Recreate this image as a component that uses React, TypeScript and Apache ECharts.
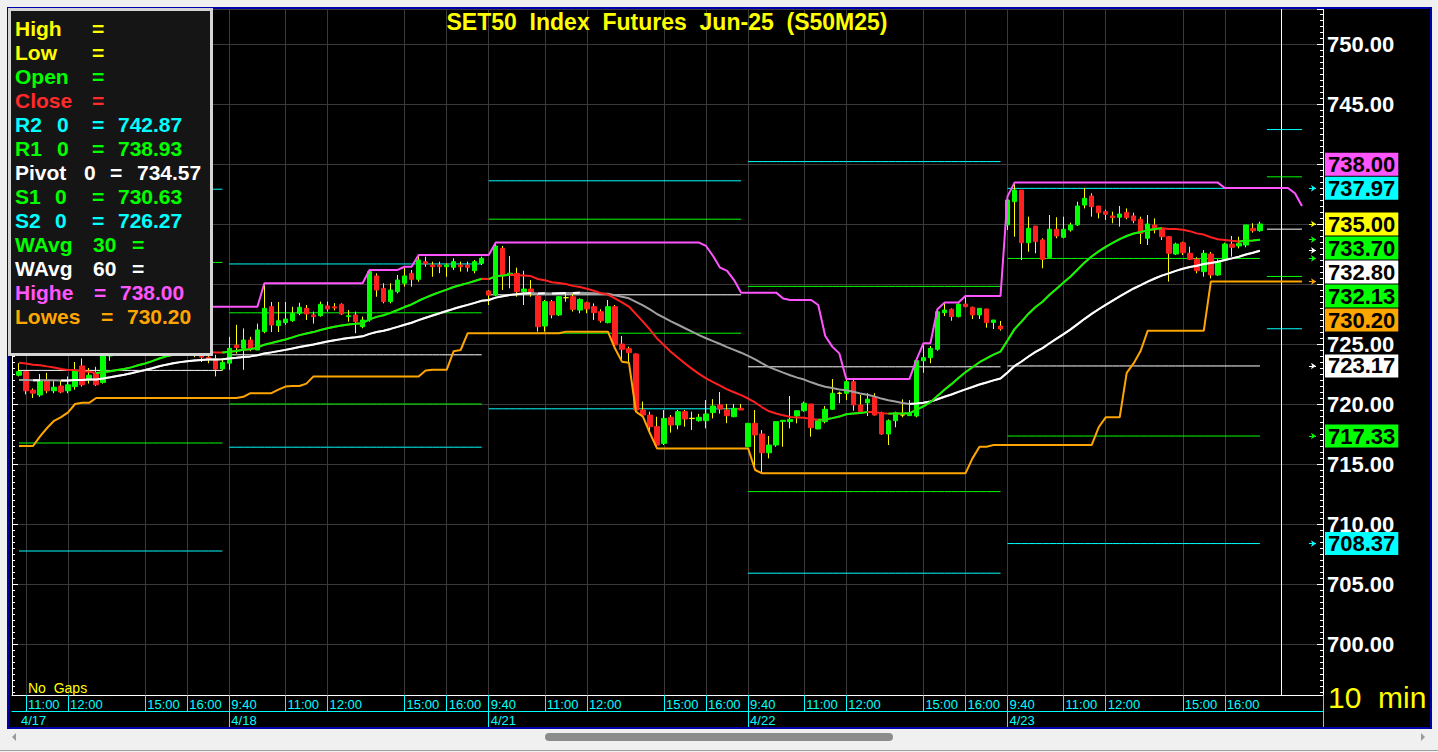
import React, { useEffect, useRef } from "react";
import * as echarts from "echarts";

const FONT = "'Liberation Sans', Arial, Helvetica, sans-serif";

// ---------- time axis ----------
const dayLabels = ["4/17", "4/18", "4/21", "4/22", "4/23"];
const dayFirstBar = [0, 30, 67, 104, 141];
const sessionTimes = [
  "9:40", "9:50", "10:00", "10:10", "10:20", "10:30", "10:40", "10:50",
  "11:00", "11:10", "11:20", "11:30", "11:40", "11:50",
  "12:00", "12:10", "12:20", "12:30", "13:50",
  "14:00", "14:10", "14:20", "14:30", "14:40", "14:50",
  "15:00", "15:10", "15:20", "15:30", "15:40", "15:50",
  "16:00", "16:10", "16:20", "16:30", "16:40", "16:50",
];
const firstDaySessionStart = 7; // 4/17 shown from 10:50
const markedTimes = ["9:40", "11:00", "12:00", "15:00", "16:00"];

// ---------- 10 min OHLC (4/17 10:50 -> 4/23 16:50) ----------
const opens = [
  // 4/17
  722.4, 722.7, 721.15, 720.75, 722.0, 721.1, 721.5, 721.1, 721.45, 723.17, 722.0, 722.6, 721.8, 724.0, 724.5,
  724.9, 724.6, 725.4, 726.0, 725.7, 726.5, 726.8, 726.2, 725.7, 725.1, 724.8, 724.2, 723.9, 723.75, 722.92,
  // 4/18
  723.4, 724.9, 724.64, 725.33, 724.5, 726.03, 728.11, 726.53, 726.78, 726.94, 727.56, 727.97, 727.42, 727.36, 728.17,
  728.1, 728.31, 727.28, 727.42, 726.44, 727.0, 730.67, 729.64, 728.53, 729.36, 730.06, 730.89, 730.39, 731.86, 731.58,
  731.58, 731.44, 731.39, 731.58, 731.58, 731.11, 731.72,
  // 4/21
  729.42, 729.08, 732.97, 730.75, 730.89, 729.36, 729.58, 729.0, 726.5, 728.53, 727.42, 728.86, 728.94, 727.83, 728.44,
  728.11, 727.69, 726.78, 728.11, 725.0, 724.61, 724.17, 719.5, 719.08, 718.11, 716.72, 718.89, 718.25, 719.36, 718.78,
  718.61, 718.61, 719.28, 719.92, 719.5, 718.94, 719.64,
  // 4/22
  716.44, 718.39, 717.5, 715.94, 716.58, 718.55, 718.53, 719.0, 719.44, 720.0, 717.92, 718.53, 719.56, 720.9, 720.89,
  721.86, 719.92, 720.1, 720.55, 719.28, 717.5, 718.61, 719.1, 719.03, 719.0, 723.6, 723.86, 724.56, 727.61, 727.89,
  727.28, 728.33, 728.06, 727.42, 727.92, 726.8, 726.5,
  // 4/23
  734.92, 736.86, 737.83, 733.44, 734.83, 733.67, 732.22, 734.56, 733.89, 734.5, 734.92, 736.58, 737.33, 736.5, 736.03,
  735.67, 735.56, 735.97, 735.67, 735.39, 733.81, 734.92, 734.64, 733.94, 732.5, 733.44, 732.56, 732.06, 731.03, 732.5,
  730.75, 732.06, 733.33, 733.17, 733.25, 734.64, 734.44,
];
const highs = [
  723.4, 722.8, 721.3, 722.5, 722.6, 722.0, 722.0, 722.3, 723.5, 723.8, 723.0, 723.1, 724.5, 724.9, 725.3,
  725.4, 725.8, 726.4, 726.6, 726.9, 728.1, 727.0, 726.5, 725.9, 725.4, 725.0, 724.5, 724.3, 724.1, 723.8,
  725.6, 726.6, 726.3, 725.6, 726.7, 730.06, 728.5, 728.5, 728.5, 728.1, 728.44, 728.25, 727.7, 728.53, 728.53,
  728.4, 728.39, 727.83, 727.7, 727.28, 731.17, 730.89, 730.06, 730.06, 730.75, 731.44, 731.17, 732.42, 732.28, 731.86,
  731.86, 731.72, 732.14, 731.86, 731.86, 732.0, 732.28,
  729.5, 733.45, 733.17, 732.33, 731.36, 731.1, 730.33, 729.08, 728.67, 728.67, 729.0, 729.22, 729.28, 728.8, 728.53,
  728.39, 727.89, 728.67, 728.25, 725.67, 724.78, 724.22, 720.2, 719.36, 718.94, 719.5, 719.08, 719.5, 719.5, 719.36,
  719.17, 720.33, 720.4, 721.0, 720.0, 720.0, 720.0,
  718.4, 719.5, 717.83, 717.33, 718.53, 718.67, 720.67, 719.44, 720.2, 720.0, 718.72, 719.83, 722.08, 721.03, 722.0,
  722.05, 720.75, 720.9, 720.9, 719.36, 718.72, 719.36, 720.39, 720.33, 723.67, 725.06, 724.83, 727.89, 728.45, 727.97,
  728.39, 729.0, 728.11, 727.97, 727.92, 727.0, 726.92,
  737.3, 738.45, 737.83, 735.61, 734.83, 733.81, 735.75, 735.56, 735.61, 735.11, 736.86, 738.0, 737.56, 736.5, 736.2,
  736.03, 736.5, 736.3, 735.94, 735.61, 735.75, 735.47, 734.72, 734.0, 733.44, 733.53, 733.11, 732.22, 732.83, 732.67,
  732.06, 733.44, 734.0, 733.94, 734.92, 735.06, 735.19,
];
const lows = [
  722.3, 720.8, 720.5, 720.6, 720.9, 720.9, 720.9, 720.9, 721.2, 721.45, 721.7, 721.5, 721.7, 723.6, 724.1,
  724.3, 724.4, 725.1, 725.4, 725.5, 726.1, 725.9, 725.4, 724.8, 724.5, 723.9, 723.5, 723.4, 722.3, 722.8,
  722.85, 724.2, 722.85, 724.4, 724.5, 725.9, 726.0, 726.0, 726.6, 726.85, 727.4, 727.0, 726.7, 727.28, 727.7,
  727.8, 727.42, 726.86, 725.9, 726.31, 726.86, 728.94, 728.39, 728.39, 729.22, 729.78, 729.78, 730.19, 731.44, 730.6,
  730.9, 730.6, 731.17, 731.03, 731.03, 730.89, 731.58,
  728.25, 729.0, 729.5, 729.64, 728.94, 728.25, 728.94, 726.03, 726.03, 727.14, 727.33, 728.53, 727.7, 727.56, 727.56,
  727.0, 726.78, 726.72, 724.64, 723.53, 723.44, 719.36, 718.94, 717.56, 716.3, 716.58, 717.61, 717.89, 718.11, 717.83,
  718.53, 717.97, 718.8, 719.2, 718.4, 718.9, 719.5,
  716.4, 714.5, 714.22, 715.47, 716.44, 716.44, 717.97, 718.39, 719.36, 717.28, 717.9, 718.39, 719.5, 720.06, 720.33,
  719.44, 719.36, 719.0, 719.03, 717.42, 716.58, 718.06, 718.89, 719.0, 718.89, 722.6, 723.4, 724.44, 727.33, 726.94,
  727.22, 728.06, 727.08, 727.08, 726.36, 726.25, 726.11,
  734.5, 733.94, 732.0, 732.69, 732.56, 731.31, 732.14, 733.81, 733.81, 734.36, 734.83, 736.3, 735.61, 735.47, 735.33,
  735.06, 734.78, 735.39, 735.06, 733.33, 733.25, 734.22, 733.67, 730.2, 732.42, 732.42, 732.0, 730.89, 730.61, 730.47,
  730.67, 732.0, 732.28, 732.97, 733.06, 734.28, 734.36,
];
const closes = [
  722.7, 721.1, 720.9, 722.0, 721.1, 721.4, 721.0, 721.6, 722.8, 721.6, 722.4, 721.6, 724.0, 724.5, 724.9,
  724.6, 725.4, 726.0, 725.7, 726.5, 726.8, 726.2, 725.7, 725.1, 724.8, 724.2, 723.9, 723.75, 722.9, 723.47,
  724.64, 724.7, 725.33, 724.56, 726.17, 727.97, 726.58, 726.94, 727.08, 727.56, 728.06, 727.5, 727.28, 728.31, 727.92,
  728.0, 727.5, 727.36, 726.86, 727.0, 731.03, 729.5, 728.53, 729.5, 730.33, 730.67, 730.39, 732.0, 731.67, 731.44,
  731.44, 731.58, 731.86, 731.44, 731.39, 731.86, 732.14,
  729.08, 733.17, 730.75, 730.9, 729.36, 729.58, 729.28, 726.44, 728.53, 727.42, 728.94, 728.86, 727.89, 728.72, 727.92,
  727.61, 726.94, 728.11, 724.92, 724.56, 724.28, 719.5, 719.08, 718.11, 716.58, 718.8, 718.25, 719.36, 718.75, 718.81,
  718.89, 719.17, 719.83, 719.58, 719.03, 719.64, 719.5,
  718.39, 717.42, 715.94, 716.58, 718.53, 718.64, 718.72, 719.44, 720.06, 718.03, 718.61, 719.56, 720.89, 720.89, 721.86,
  719.92, 719.36, 720.4, 719.08, 717.5, 718.61, 719.28, 719.08, 719.22, 723.61, 723.86, 724.64, 727.69, 727.83, 727.28,
  728.33, 728.11, 727.42, 727.97, 726.78, 727.0, 726.25,
  737.0, 737.83, 733.44, 734.64, 733.53, 732.06, 734.56, 734.0, 734.56, 734.92, 736.5, 737.14, 736.44, 735.94, 735.81,
  735.53, 735.83, 735.53, 735.28, 734.22, 735.0, 734.5, 733.94, 732.56, 733.33, 732.61, 732.06, 731.11, 732.56, 730.75,
  731.86, 733.33, 733.06, 733.39, 734.92, 734.44, 735.0,
];

// bars before the first visible one (feed the 30/60 bar indicators)
const histHigh = [
  719.8, 719.6, 720.1, 719.7, 719.1, 719.6, 719.9, 719.4, 718.9, 718.6, 719.0, 718.3, 717.9, 717.8, 718.4, 719.1, 719.8, 720.2, 720.9, 721.4,
  722.0, 722.6, 723.2, 723.8, 724.4, 724.9, 725.3, 724.9, 725.4, 725.8, 725.4, 725.6, 725.2, 725.5, 725.0, 724.6, 724.9, 724.4, 723.8, 723.3,
];
const histLow = [
  718.6, 718.2, 718.9, 718.4, 717.9, 718.3, 718.7, 718.1, 717.7, 717.4, 717.7, 717.0, 716.8, 716.5, 717.3, 718.0, 718.6, 718.9, 719.3, 720.0,
  720.6, 720.1, 721.9, 722.6, 723.1, 723.7, 724.0, 723.7, 724.2, 724.5, 724.1, 724.4, 723.9, 724.3, 723.8, 723.4, 723.7, 723.1, 722.5, 721.9,
];
const histClose = [
  719.2, 718.8, 719.5, 719.0, 718.4, 718.9, 719.3, 718.7, 718.2, 717.9, 718.3, 717.6, 717.2, 717.0, 717.9, 718.6, 719.2, 719.6, 720.3, 720.8,
  721.4, 722.0, 722.6, 723.2, 723.8, 724.3, 724.6, 724.2, 724.8, 725.1, 724.7, 725.0, 724.5, 724.9, 724.4, 724.0, 724.3, 723.8, 723.2, 722.6,
];

// ---------- daily pivot levels (4/17, 4/18, 4/21, 4/22, 4/23, next session) ----------
const pivotR2 = [737.9, 731.67, 738.6, 740.2, 737.97, 742.87];
const pivotR1 = [731.8, 727.6, 735.4, 729.8, 732.13, 738.93];
const pivotP = [722.8, 724.1, 729.1, 723.1, 723.17, 734.57];
const pivotS1 = [716.75, 720.0, 725.9, 712.7, 717.33, 730.63];
const pivotS2 = [707.75, 716.4, 719.6, 705.9, 708.37, 726.27];
const pivotFirstBar = [0, 30, 67, 104, 141, 178];
const pivotLastBar = [29, 66, 103, 140, 177, 183];

// ---------- read-outs ----------
const panelHighe = 738.0;
const panelLowes = 730.2;
const lastWAvg30 = 733.7;
const lastWAvg60 = 732.8;
const cursorBar = 180;

// ---------- layout constants ----------
const LEAD = 1;
const TOTAL_CATS = 188;
const Y_MIN = 700 - (695 - 644) / 12;
const Y_MAX = 700 + (644 - 9) / 12;

const C_GREEN = "#00ff00";
const C_RED = "#ff2020";
const C_CYAN = "#00ffff";
const C_YELLOW = "#ffff00";
const C_MAGENTA = "#ff55ff";
const C_ORANGE = "#ffa500";
const C_GRID = "#3a3a3a";

function buildOption() {
  const nBars = closes.length;
  const cats = Array.from({ length: TOTAL_CATS }, (_, k) => "c" + k);
  const H0 = histClose.length;
  const allC = histClose.concat(closes);
  const allH = histHigh.concat(highs);
  const allL = histLow.concat(lows);

  const dayOf = (i: number) => {
    let d = -1;
    for (let j = 0; j < dayFirstBar.length; j++) if (i >= dayFirstBar[j]) d = j;
    return d;
  };
  const timeText: string[] = [];
  const dateText: string[] = [];
  const timeMark: boolean[] = [];
  const dateMark: boolean[] = [];
  const dateTick: boolean[] = [];
  for (let k = 0; k < TOTAL_CATS; k++) {
    const i = k - LEAD;
    if (i < 0 || i >= nBars) {
      timeText.push(""); dateText.push(""); timeMark.push(false); dateMark.push(false); dateTick.push(false);
      continue;
    }
    const d = dayOf(i);
    const t = sessionTimes[i - dayFirstBar[d] + (d === 0 ? firstDaySessionStart : 0)];
    const isStart = i === dayFirstBar[d];
    timeText.push(t);
    dateText.push(isStart ? dayLabels[d] : "");
    timeMark.push(markedTimes.indexOf(t) >= 0);
    dateMark.push(isStart);
    dateTick.push(isStart && i > 0);
  }

  const wma = (n: number, g: number) => {
    let s = 0, ws = 0;
    for (let j = 0; j < n; j++) {
      const idx = g - j;
      if (idx < 0) break;
      const w = n - j;
      s += w * allC[idx];
      ws += w;
    }
    return s / ws;
  };
  const lastG = allC.length - 1;
  const extreme = (g: number, arr: number[], isMax: boolean) => {
    let r = isMax ? -Infinity : Infinity;
    for (let idx = Math.max(0, g - 29); idx <= Math.min(g, lastG); idx++) {
      r = isMax ? Math.max(r, arr[idx]) : Math.min(r, arr[idx]);
    }
    return r;
  };

  const wma30: (number | null)[] = [];
  const wma60: (number | null)[] = [];
  const highest: (number | null)[] = [];
  const lowest: (number | null)[] = [];
  const endBar = pivotLastBar[pivotLastBar.length - 1];
  for (let k = 0; k < TOTAL_CATS; k++) {
    const i = k - LEAD;
    const g = i + H0;
    wma30.push(i >= 0 && i < nBars ? wma(30, g) : null);
    wma60.push(i >= 0 && i < nBars ? wma(60, g) : null);
    highest.push(i >= 0 && i <= endBar ? extreme(g, allH, true) : null);
    lowest.push(i >= 0 && i <= endBar ? extreme(g, allL, false) : null);
  }

  const risingRuns = (vals: (number | null)[]) => {
    const a: (number | null)[] = vals.map(() => null);
    const b: (number | null)[] = vals.map(() => null);
    let run = -1;
    let inRun = false;
    for (let k = 1; k < vals.length; k++) {
      const p = vals[k - 1], c = vals[k];
      const up = p != null && c != null && c >= p;
      if (up) {
        if (!inRun) { run++; inRun = true; }
        const tgt = run % 2 === 0 ? a : b;
        tgt[k - 1] = p; tgt[k] = c;
      } else inRun = false;
    }
    return [a, b];
  };

  const line = (data: any[], color: string, width: number, z: number, extra: any = {}) => ({
    type: "line", data, symbol: "none", showSymbol: false, connectNulls: false, silent: true,
    lineStyle: { color, width }, itemStyle: { color }, emphasis: { disabled: true }, z, animation: false, ...extra,
  });

  const pivotSeries: any[] = [];
  const levels: [number[], string][] = [
    [pivotR2, C_CYAN], [pivotR1, C_GREEN], [pivotP, "#ffffff"], [pivotS1, C_GREEN], [pivotS2, C_CYAN],
  ];
  levels.forEach(([arr, col]) => {
    for (let parity = 0; parity < 2; parity++) {
      const data = cats.map((_, k) => {
        const i = k - LEAD;
        for (let d = parity; d < arr.length; d += 2) {
          if (i >= pivotFirstBar[d] && i <= pivotLastBar[d]) return arr[d];
        }
        return null;
      });
      pivotSeries.push(line(data, col, 1, 2));
    }
  });

  const wickData = cats.map((_, k) => {
    const i = k - LEAD;
    if (i < 0 || i >= nBars) return ["-", "-", "-", "-"];
    return [opens[i], closes[i], lows[i], highs[i]];
  });
  const bodyData = cats.map((_, k) => {
    const i = k - LEAD;
    if (i < 0 || i >= nBars) return ["-", "-", "-", "-"];
    const o = opens[i], c = closes[i];
    const item: any = { value: [o, c, Math.min(o, c), Math.max(o, c)] };
    if (Math.abs(o - c) < 0.04) item.itemStyle = { color: C_YELLOW, color0: C_YELLOW, borderColor: C_YELLOW, borderColor0: C_YELLOW };
    return item;
  });

  const [w30a, w30b] = risingRuns(wma30);
  const [w60a, w60b] = risingRuns(wma60);

  // value tags on the right axis
  const lastClose = closes[nBars - 1];
  const today = pivotR2.length - 2;
  const tags = [
    { v: panelHighe, bg: C_MAGENTA, arrow: false },
    { v: pivotR2[today], bg: C_CYAN, arrow: true },
    { v: lastClose, bg: C_YELLOW, arrow: true },
    { v: lastWAvg30, bg: C_GREEN, arrow: true },
    { v: lastWAvg60, bg: "#ffffff", arrow: true },
    { v: pivotR1[today], bg: C_GREEN, arrow: true },
    { v: panelLowes, bg: C_ORANGE, arrow: true },
    { v: pivotP[today], bg: "#ffffff", arrow: true },
    { v: pivotS1[today], bg: C_GREEN, arrow: true },
    { v: pivotS2[today], bg: C_CYAN, arrow: true },
  ];
  const TAG_H = 2; // 24 px in value units
  const placed: { v: number; pos: number; bg: string; arrow: boolean }[] = [];
  const above = tags.filter((t) => t.v > lastClose).sort((a, b) => a.v - b.v);
  const below = tags.filter((t) => t.v < lastClose).sort((a, b) => b.v - a.v);
  placed.push({ ...tags[2], pos: lastClose });
  let prev = lastClose;
  above.forEach((t) => { const p = Math.max(t.v, prev + TAG_H); placed.push({ ...t, pos: p }); prev = p; });
  prev = lastClose;
  below.forEach((t) => { const p = Math.min(t.v, prev - TAG_H); placed.push({ ...t, pos: p }); prev = p; });
  const coveredByTag = (v: number) => placed.some((t) => Math.abs(t.pos - v) <= 1.01);

  const tagLines = placed.map((t) => ({
    yAxis: t.pos,
    lineStyle: { color: "rgba(0,0,0,0)", width: 1 },
    label: {
      show: true, position: "end", distance: 2, formatter: t.v.toFixed(2), color: "#000000",
      backgroundColor: t.bg, fontSize: 22, fontWeight: "bold", fontFamily: FONT, padding: [1, 3, 0, 3], lineHeight: 22,
    },
  }));
  const arrowLines = placed.filter((t) => t.arrow).map((t) => [
    { coord: ["c185", t.v], lineStyle: { color: t.bg, width: 1 } },
    { coord: ["c186", t.v] },
  ]);

  const cursorHost = line(cats.map(() => null), "#ffffff", 1, 18, {
    clip: false,
    markLine: {
      silent: true, symbol: "none", animation: false,
      label: { show: false },
      lineStyle: { color: "#ffffff", width: 1, type: "solid" },
      data: [{ xAxis: "c" + (cursorBar + LEAD) }],
    },
  });
  const tagHost = line(cats.map(() => null), "#ffffff", 1, 20, {
    clip: false,
    markLine: {
      silent: true, symbol: "none", animation: false,
      lineStyle: { color: "rgba(0,0,0,0)", width: 1, type: "solid" },
      data: tagLines,
    },
  });
  const arrowHost = line(cats.map(() => null), "#ffffff", 1, 19, {
    clip: false,
    markLine: {
      silent: true, symbol: ["none", "arrow"], symbolSize: 5, animation: false,
      label: { show: false }, data: arrowLines,
    },
  });

  // ---------- legend panel & decorations ----------
  const legendRows: { color: string; parts: [string, number][] }[] = [
    { color: C_YELLOW, parts: [["High", 15], ["=", 92]] },
    { color: C_YELLOW, parts: [["Low", 15], ["=", 92]] },
    { color: C_GREEN, parts: [["Open", 15], ["=", 92]] },
    { color: "#ff2a2a", parts: [["Close", 15], ["=", 92]] },
    { color: C_CYAN, parts: [["R2", 15], ["0", 57], ["=", 92], [pivotR2[5].toFixed(2), 118]] },
    { color: C_GREEN, parts: [["R1", 15], ["0", 57], ["=", 92], [pivotR1[5].toFixed(2), 118]] },
    { color: "#ffffff", parts: [["Pivot", 15], ["0", 84], ["=", 110], [pivotP[5].toFixed(2), 137]] },
    { color: C_GREEN, parts: [["S1", 15], ["0", 55], ["=", 92], [pivotS1[5].toFixed(2), 118]] },
    { color: C_CYAN, parts: [["S2", 15], ["0", 55], ["=", 92], [pivotS2[5].toFixed(2), 118]] },
    { color: C_GREEN, parts: [["WAvg", 15], ["30", 93], ["=", 132]] },
    { color: "#ffffff", parts: [["WAvg", 15], ["60", 93], ["=", 132]] },
    { color: C_MAGENTA, parts: [["Highe", 15], ["=", 94], [panelHighe.toFixed(2), 120]] },
    { color: C_ORANGE, parts: [["Lowes", 15], ["=", 101], [panelLowes.toFixed(2), 127]] },
  ];
  const txt = (text: string, x: number, y: number, fill: string, font: string, align = "left", z = 111) => ({
    type: "text", z, silent: true,
    style: { text, x, y, fill, font, align, verticalAlign: "middle", textAlign: align, textVerticalAlign: "middle" },
  });
  const graphics: any[] = [
    { type: "rect", z: 100, silent: true, shape: { x: 0, y: 0, width: 1438, height: 7 }, style: { fill: "#f0f0f0" } },
    { type: "rect", z: 100, silent: true, shape: { x: 0, y: 0, width: 7, height: 752 }, style: { fill: "#f0f0f0" } },
    { type: "rect", z: 100, silent: true, shape: { x: 1432, y: 0, width: 6, height: 752 }, style: { fill: "#f0f0f0" } },
    { type: "rect", z: 100, silent: true, shape: { x: 0, y: 729, width: 1438, height: 23 }, style: { fill: "#f0f0f0" } },
    { type: "rect", z: 101, silent: true, shape: { x: 8, y: 8, width: 1423, height: 720 }, style: { fill: "none", stroke: "#0000a8", lineWidth: 2 } },
    { type: "line", z: 101, silent: true, shape: { x1: 1323.5, y1: 695, x2: 1323.5, y2: 727 }, style: { stroke: C_CYAN, lineWidth: 1 } },
    { type: "rect", z: 102, silent: true, shape: { x: 545, y: 733, width: 348, height: 8, r: 4 }, style: { fill: "#8c8c8c" } },
    { type: "polygon", z: 102, silent: true, shape: { points: [[16, 733], [16, 741], [12, 737]] }, style: { fill: "#9a9a9a" } },
    { type: "polygon", z: 102, silent: true, shape: { points: [[1421, 733], [1421, 741], [1425, 737]] }, style: { fill: "#9a9a9a" } },
    { type: "line", z: 102, silent: true, shape: { x1: 0, y1: 750.5, x2: 1438, y2: 750.5 }, style: { stroke: "#a0a0a0", lineWidth: 1 } },
    { type: "rect", z: 110, silent: true, shape: { x: 9.5, y: 9.5, width: 202, height: 345 }, style: { fill: "#151515", stroke: "#d4d4d4", lineWidth: 3 } },
    txt("SET50  Index  Futures  Jun-25  (S50M25)", 667, 22, C_YELLOW, `bold 23px ${FONT}`, "center", 105),
    txt("No  Gaps", 28, 688, C_YELLOW, `14px ${FONT}`, "left", 105),
    txt("10  min", 1328, 697, C_YELLOW, `30px ${FONT}`, "left", 105),
  ];
  legendRows.forEach((row, r) => {
    row.parts.forEach(([s, x]) => graphics.push(txt(s, x, 28 + r * 24, row.color, `bold 21px ${FONT}`)));
  });

  const xLabelBase = { color: C_CYAN, fontSize: 13, fontFamily: FONT, align: "left", padding: [0, 0, 0, 2], margin: 3 };

  return {
    animation: false,
    backgroundColor: "#000000",
    grid: { left: 12, top: 9, width: 1311, height: 686, containLabel: false, show: false },
    xAxis: [
      {
        type: "category", data: cats, boundaryGap: false, position: "bottom",
        axisLine: { onZero: false, lineStyle: { color: "#ffffff", width: 1 } },
        axisTick: { show: true, interval: (k: number) => timeMark[k], length: 16, lineStyle: { color: C_CYAN } },
        axisLabel: { ...xLabelBase, interval: (k: number) => timeMark[k], formatter: (_v: string, k: number) => timeText[k] },
        splitLine: { show: true, interval: (k: number) => timeMark[k], lineStyle: { color: C_GRID, width: 1 } },
      },
      {
        type: "category", data: cats, boundaryGap: false, position: "bottom", offset: 16,
        axisLine: { onZero: false, lineStyle: { color: C_CYAN, width: 1 } },
        axisTick: { show: true, interval: (k: number) => dateTick[k], length: 16, lineStyle: { color: C_CYAN } },
        axisLabel: { ...xLabelBase, interval: (k: number) => dateMark[k], formatter: (_v: string, k: number) => dateText[k] },
        splitLine: { show: false },
      },
    ],
    yAxis: [
      {
        type: "value", position: "right", min: Y_MIN, max: Y_MAX, minInterval: 5, maxInterval: 5, splitNumber: 11,
        axisLine: { show: true, onZero: false, lineStyle: { color: "#ffffff", width: 1 } },
        axisTick: { show: true, inside: true, length: 6, lineStyle: { color: "#ffffff" } },
        minorTick: { show: true, splitNumber: 10, length: 3, lineStyle: { color: "#ffffff" } },
        axisLabel: {
          show: true, margin: 4, color: "#ffffff", fontSize: 22, fontWeight: "bold", fontFamily: FONT, lineHeight: 14,
          formatter: (v: number) => (coveredByTag(v) ? "" : v.toFixed(2)), showMinLabel: false, showMaxLabel: false,
        },
        splitLine: { show: true, lineStyle: { color: C_GRID, width: 1 } },
      },
      {
        type: "value", position: "left", min: Y_MIN, max: Y_MAX, minInterval: 5, maxInterval: 5, splitNumber: 11,
        axisLine: { show: true, onZero: false, lineStyle: { color: "#ffffff", width: 1 } },
        axisTick: { show: true, inside: true, length: 6, lineStyle: { color: "#ffffff" } },
        minorTick: { show: true, splitNumber: 10, length: 3, lineStyle: { color: "#ffffff" } },
        axisLabel: { show: false },
        splitLine: { show: false },
      },
    ],
    series: [
      ...pivotSeries,
      {
        type: "candlestick", data: wickData, barWidth: 1, silent: true, z: 3,
        itemStyle: { color: C_YELLOW, color0: C_YELLOW, borderColor: C_YELLOW, borderColor0: C_YELLOW, borderWidth: 1 },
      },
      {
        type: "candlestick", data: bodyData, barWidth: 5, silent: true, z: 4,
        itemStyle: { color: C_GREEN, color0: C_RED, borderColor: C_GREEN, borderColor0: C_RED, borderWidth: 1 },
      },
      line(wma60, "#a0a0a0", 2, 5),
      line(w60a, "#ffffff", 2, 6),
      line(w60b, "#ffffff", 2, 6),
      line(wma30, C_RED, 2, 7),
      line(w30a, C_GREEN, 2, 8),
      line(w30b, C_GREEN, 2, 8),
      line(highest, C_MAGENTA, 2, 9),
      line(lowest, C_ORANGE, 2, 9),
      cursorHost,
      arrowHost,
      tagHost,
    ],
    graphic: { elements: graphics },
  };
}

export default function App() {
  const ref = useRef<HTMLDivElement>(null);
  useEffect(() => {
    if (!ref.current) return;
    const chart = echarts.init(ref.current, null, { renderer: "svg", width: 1438, height: 752 });
    chart.setOption(buildOption() as any);
    return () => chart.dispose();
  }, []);
  return <div ref={ref} style={{ position: "fixed", left: 0, top: 0, width: 1438, height: 752 }} />;
}
